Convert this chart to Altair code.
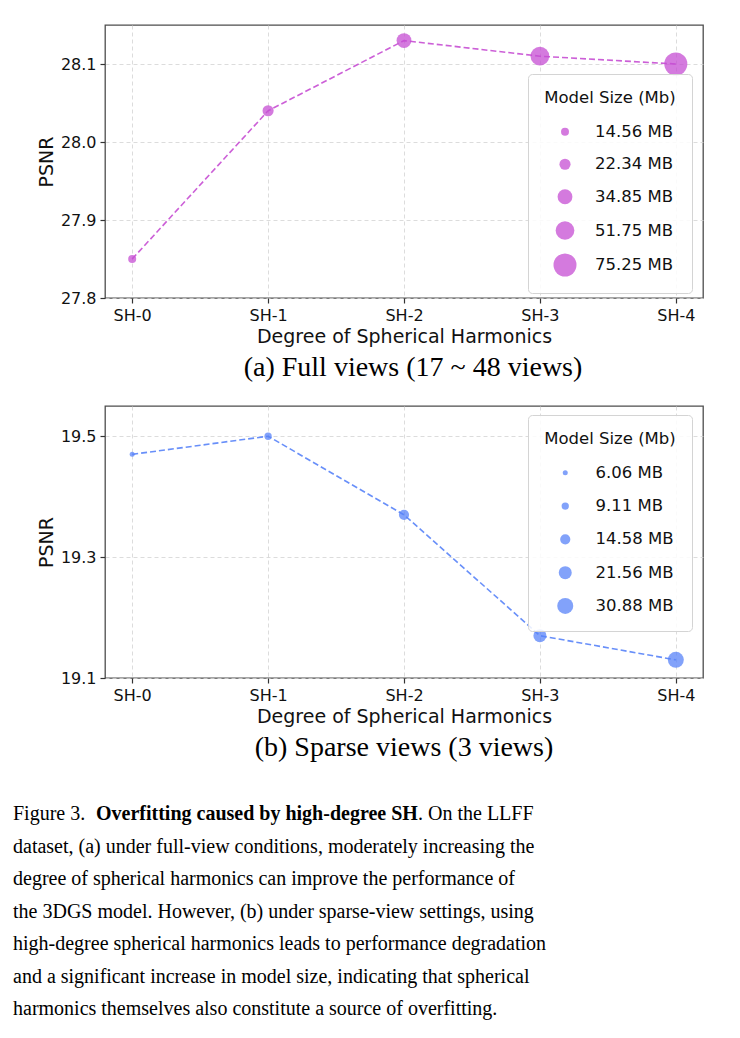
import altair as alt
import pandas as pd

# ---- data -------------------------------------------------------------
degrees = ["SH-0", "SH-1", "SH-2", "SH-3", "SH-4"]

full_psnr = [27.85, 28.04, 28.13, 28.11, 28.10]
full_size_mb = [14.56, 22.34, 34.85, 51.75, 75.25]
full_ticks = [27.8, 27.9, 28.0, 28.1]

sparse_psnr = [19.47, 19.50, 19.37, 19.17, 19.13]
sparse_size_mb = [6.06, 9.11, 14.58, 21.56, 30.88]
sparse_ticks = [19.1, 19.3, 19.5]

caption_head = "Figure 3."
caption_bold = "Overfitting caused by high-degree SH"
caption_tail = ". On the LLFF"
caption_rest = [
    "dataset, (a) under full-view conditions, moderately increasing the",
    "degree of spherical harmonics can improve the performance of",
    "the 3DGS model. However, (b) under sparse-view settings, using",
    "high-degree spherical harmonics leads to performance degradation",
    "and a significant increase in model size, indicating that spherical",
    "harmonics themselves also constitute a source of overfitting.",
]

# ---- styling ----------------------------------------------------------
SANS = "DejaVu Sans"
SERIF = "Liberation Serif"
PLOT_W = 598
PURPLE = "#C64ED3"
BLUE = "#5883F8"


def panel(psnr, sizes, ticks, y_domain, color, diam, height, legend_y,
          sym_offset, label_offset, title_pad, row_pad, subcaption, sub_dx):
    df = pd.DataFrame({"degree": degrees, "psnr": psnr, "size_mb": sizes})
    x = alt.X(
        "degree:O", sort=degrees,
        scale=alt.Scale(type="point", padding=0.2),
        axis=alt.Axis(title="Degree of Spherical Harmonics", labelAngle=0),
    )
    y = alt.Y(
        "psnr:Q",
        scale=alt.Scale(domain=y_domain, zero=False, nice=False),
        axis=alt.Axis(title="PSNR", values=ticks, format=".1f"),
    )
    base = alt.Chart(df)
    line = base.mark_line(
        color=color, strokeDash=[6, 3], strokeWidth=1.6, opacity=0.9
    ).encode(x=x, y=y)
    dots = base.mark_circle(color=color, opacity=0.75).encode(
        x=x,
        y=y,
        size=alt.Size(
            "size_mb:Q",
            scale=alt.Scale(domain=[sizes[0], sizes[-1]],
                            range=[diam[0] ** 2, diam[1] ** 2], zero=False),
            legend=alt.Legend(
                title="Model Size (Mb)",
                values=sizes,
                labelExpr="format(datum.value, '.2f') + ' MB'",
                orient="none",
                legendX=423,
                legendY=legend_y,
                direction="vertical",
                gridAlign="all",
                fillColor="rgba(255,255,255,0.85)",
                strokeColor="#d4d4d4",
                cornerRadius=4,
                padding=16,
                titleFont=SANS,
                titleFontSize=16.5,
                titleFontWeight="normal",
                titleColor="#111111",
                titleAnchor="middle",
                titlePadding=title_pad,
                labelFont=SANS,
                labelFontSize=16.5,
                labelColor="#111111",
                labelOffset=label_offset,
                symbolOffset=sym_offset,
                symbolType="circle",
                symbolFillColor=color,
                symbolOpacity=0.75,
                symbolStrokeWidth=0,
                rowPadding=row_pad,
            ),
        ),
    )
    return alt.layer(line, dots).properties(
        width=PLOT_W,
        height=height,
        title=alt.TitleParams(
            subcaption, orient="bottom", anchor="middle", font=SERIF,
            fontSize=28, fontWeight="normal", color="black", offset=8,
            dx=sub_dx,
        ),
    )


top = panel(full_psnr, full_size_mb, full_ticks, [27.8, 28.15], PURPLE,
            (8, 23), 273, 49, 6.5, 18.5, 17, 9.5,
            "(a) Full views (17 ~ 48 views)", 9)
bottom = panel(sparse_psnr, sparse_size_mb, sparse_ticks, [19.1, 19.55], BLUE,
               (5, 16), 272, 9, 10, 22, 17, 16.3,
               "(b) Sparse views (3 views)", 0)

# ---- figure caption ---------------------------------------------------
CAP_SIZE = 20
row_y = alt.Y("row:Q", scale=alt.Scale(domain=[0, 6], range=[28, 223]), axis=None)
CAP_X = -92


def caption_layer(rows, texts, x, weight="normal"):
    df = pd.DataFrame({"row": rows, "text": texts})
    return alt.Chart(df).mark_text(
        align="left", baseline="middle", font=SERIF, fontSize=CAP_SIZE,
        fontWeight=weight, color="black",
    ).encode(x=alt.value(x), y=row_y, text="text:N")


caption = alt.layer(
    caption_layer([0], [caption_head], CAP_X),
    caption_layer([0], [caption_bold], CAP_X + 83, "bold"),
    caption_layer([0], [caption_tail], CAP_X + 405),
    caption_layer(list(range(1, 7)), caption_rest, CAP_X),
).properties(width=PLOT_W, height=240, view=alt.ViewBackground(stroke="transparent"))

chart = (
    alt.vconcat(top, bottom, caption, spacing=108, bounds="flush")
    .resolve_scale(size="independent")
    .resolve_legend(size="independent")
    .properties(padding={"left": 12, "top": 24, "right": 10, "bottom": 4},
                background="white")
    .configure_view(stroke="#4d4d4d", strokeWidth=1.3)
    .configure_axis(
        labelFont=SANS, labelFontSize=16, labelColor="#111111",
        titleFont=SANS, titleFontSize=19, titleFontWeight="normal",
        titleColor="#111111",
        domain=False, ticks=True, tickSize=5, tickWidth=1.2, tickColor="#333333",
        labelPadding=4, titlePadding=4,
        grid=True, gridColor="#d3d3d3", gridDash=[4, 3], gridWidth=0.8,
    )
)

chart.save("out.html", embed_options={"renderer": "svg", "actions": False})
